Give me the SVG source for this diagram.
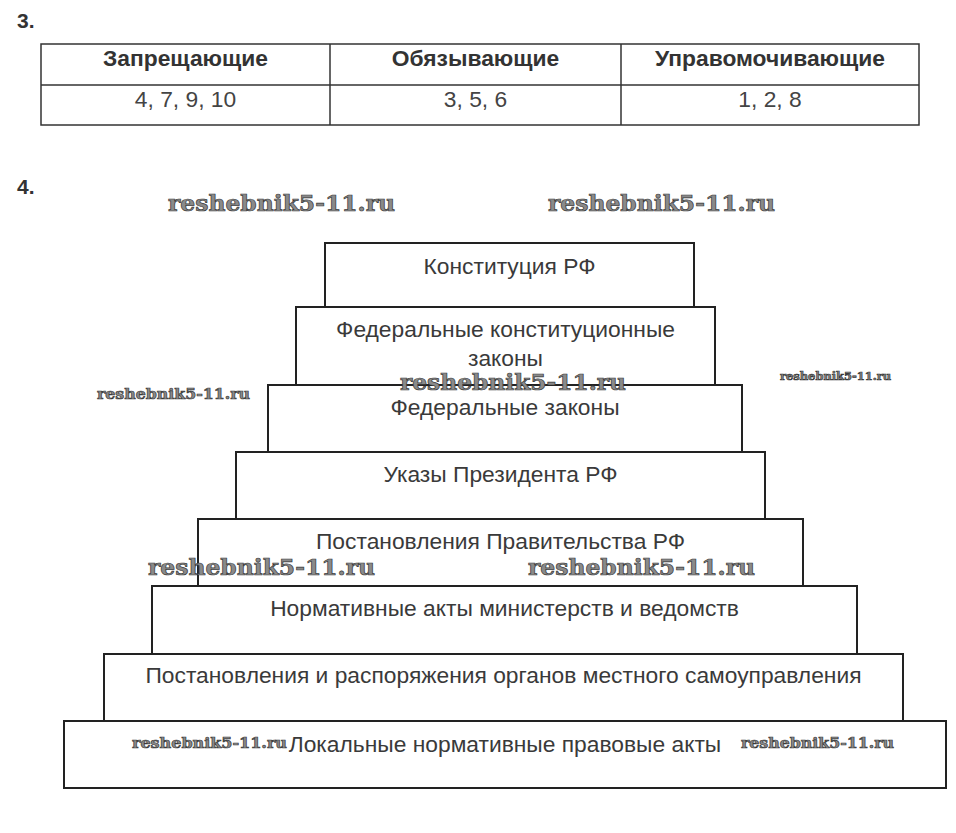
<svg xmlns="http://www.w3.org/2000/svg" width="956" height="833" viewBox="0 0 956 833">
<style>
.num{font-family:"Liberation Sans",Arial,sans-serif;font-size:21px;font-weight:bold;fill:#333}
.th{font-family:"Liberation Sans",Arial,sans-serif;font-size:22.8px;font-weight:bold;fill:#333;text-anchor:middle}
.td{font-family:"Liberation Sans",Arial,sans-serif;font-size:22.8px;fill:#444;text-anchor:middle}
.tl{stroke:#333;stroke-width:1.5;fill:none}
.box{fill:#fff;stroke:#222;stroke-width:2}
.bt{font-family:"Liberation Sans",Arial,sans-serif;font-size:22.8px;fill:#3a3a3a;text-anchor:middle}
.wm{font-family:"DejaVu Serif",Georgia,serif;font-weight:bold;fill:#8a8a8a;stroke:#3a3a3a;stroke-width:0.7}
</style>
<rect width="956" height="833" fill="#fff"/>
<text class="num" x="17" y="28">3.</text>
<g id="table">
<rect class="tl" x="41" y="44" width="878" height="81"/>
<line class="tl" x1="41" y1="85" x2="919" y2="85"/>
<line class="tl" x1="330" y1="44" x2="330" y2="125"/>
<line class="tl" x1="621" y1="44" x2="621" y2="125"/>
<text class="th" x="185.5" y="66">Запрещающие</text>
<text class="th" x="475.5" y="66">Обязывающие</text>
<text class="th" x="770" y="66">Управомочивающие</text>
<text class="td" x="185.5" y="107">4, 7, 9, 10</text>
<text class="td" x="475.5" y="107">3, 5, 6</text>
<text class="td" x="770" y="107">1, 2, 8</text>
</g>
<text class="num" x="17" y="194">4.</text>
<g id="n1"><rect class="box" x="325" y="243" width="369" height="64"/><text class="bt" x="509.5" y="274">Конституция РФ</text></g>
<g id="n2"><rect class="box" x="296" y="307" width="419" height="78"/><text class="bt" x="505.5" y="337">Федеральные конституционные</text><text class="bt" x="505.5" y="366">законы</text></g>
<g id="n3"><rect class="box" x="268" y="385" width="474" height="67"/><text class="bt" x="505" y="415">Федеральные законы</text></g>
<g id="n4"><rect class="box" x="236" y="452" width="529" height="67"/><text class="bt" x="500.5" y="482">Указы Президента РФ</text></g>
<g id="n5"><rect class="box" x="198" y="519" width="605" height="67"/><text class="bt" x="500.5" y="549">Постановления Правительства РФ</text></g>
<g id="n6"><rect class="box" x="152" y="586" width="705" height="68"/><text class="bt" x="504.5" y="616">Нормативные акты министерств и ведомств</text></g>
<g id="n7"><rect class="box" x="104" y="654" width="799" height="67"/><text class="bt" x="503.5" y="683">Постановления и распоряжения органов местного самоуправления</text></g>
<g id="n8"><rect class="box" x="64" y="721" width="882" height="67"/><text class="bt" x="505" y="752">Локальные нормативные правовые акты</text></g>
<g id="connectors"></g>
<g id="watermarks">
<text class="wm" x="168" y="211" font-size="22" textLength="227" lengthAdjust="spacingAndGlyphs">reshebnik5-11.ru</text>
<text class="wm" x="548" y="211" font-size="22" textLength="227" lengthAdjust="spacingAndGlyphs">reshebnik5-11.ru</text>
<text class="wm" x="400" y="390" font-size="22" textLength="226" lengthAdjust="spacingAndGlyphs">reshebnik5-11.ru</text>
<text class="wm" x="97" y="399" font-size="15" textLength="153" lengthAdjust="spacingAndGlyphs" stroke-width="0.4">reshebnik5-11.ru</text>
<text class="wm" x="780" y="380" font-size="11" textLength="111" lengthAdjust="spacingAndGlyphs" stroke-width="0.3">reshebnik5-11.ru</text>
<text class="wm" x="148" y="575" font-size="22" textLength="227" lengthAdjust="spacingAndGlyphs">reshebnik5-11.ru</text>
<text class="wm" x="528" y="575" font-size="22" textLength="227" lengthAdjust="spacingAndGlyphs">reshebnik5-11.ru</text>
<text class="wm" x="132" y="748" font-size="15" textLength="155" lengthAdjust="spacingAndGlyphs" stroke-width="0.4">reshebnik5-11.ru</text>
<text class="wm" x="741" y="748" font-size="15" textLength="153" lengthAdjust="spacingAndGlyphs" stroke-width="0.4">reshebnik5-11.ru</text>
</g>
</svg>
